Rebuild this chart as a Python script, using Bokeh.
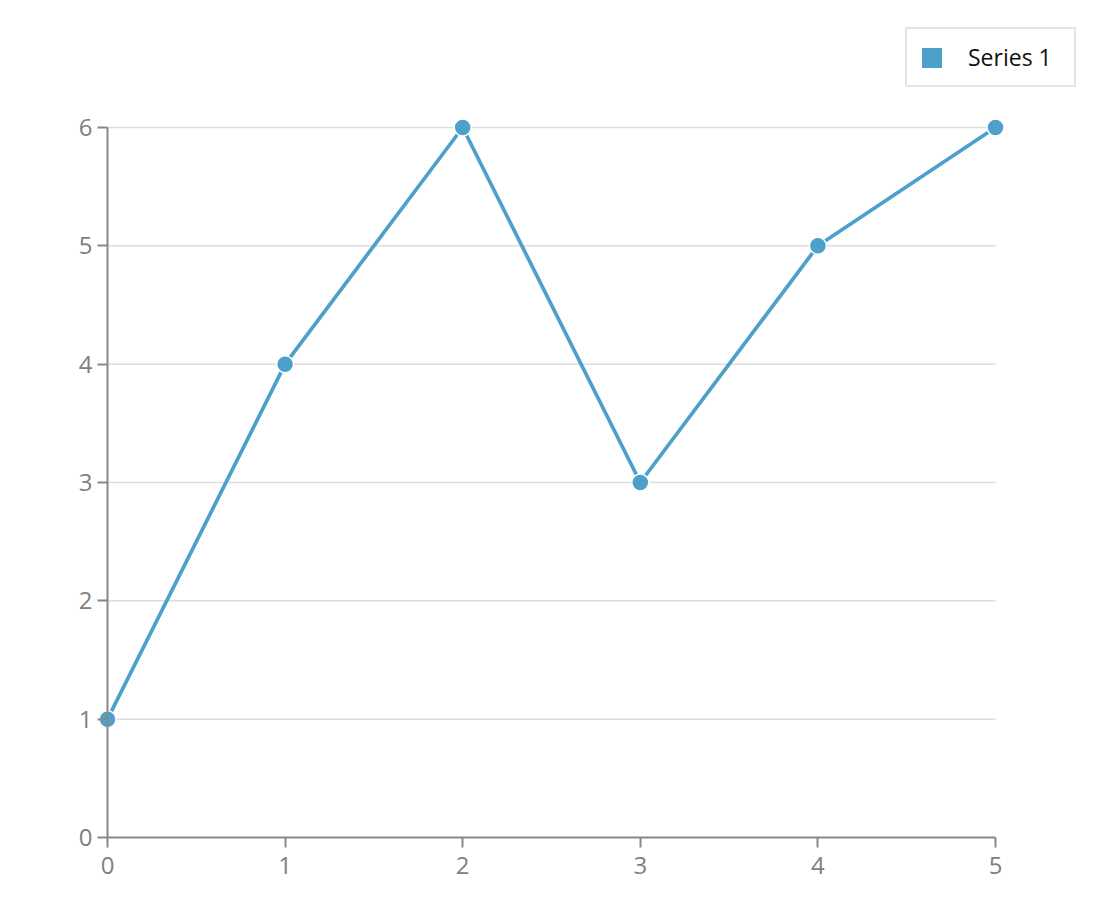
from bokeh.plotting import figure
from bokeh.models import (Range1d, Legend, LegendItem, FixedTicker, LinearAxis,
                          ColumnDataSource)
from bokeh.embed import file_html
from bokeh.resources import INLINE

x = [0, 1, 2, 3, 4, 5]
y = [1, 4, 6, 3, 5, 6]
series_name = "Series 1"
x_ticks = [0, 1, 2, 3, 4, 5]
y_ticks = [0, 1, 2, 3, 4, 5, 6]

blue = "#4ca0c9"
grey = "#888888"
label_grey = "#808080"
font = "Open Sans"

W, H = 1100, 900
# frame is made bigger than the data area so edge markers, axis labels and
# the legend are not clipped
L, R, T, B = 60, 1090, 10, 852
# pixel spots where the data area should sit
px0, px1, py0, py1 = 107, 995, 837, 127
xs = (px1 - px0) / (x_ticks[-1] - x_ticks[0])
ys = (py0 - py1) / (y_ticks[-1] - y_ticks[0])
x_rng = Range1d(x_ticks[0] - (px0 - L) / xs, x_ticks[-1] + (R - px1) / xs)
y_rng = Range1d(y_ticks[0] - (B - py0) / ys, y_ticks[-1] + (py1 - T) / ys)

p = figure(width=W, height=H, output_backend="svg", toolbar_location=None,
           x_range=x_rng, y_range=y_rng, x_axis_location=None, y_axis_location=None,
           min_border_left=L, min_border_right=W - R, min_border_top=T,
           min_border_bottom=H - B)
p.outline_line_color = None
p.background_fill_color = "white"
p.border_fill_color = "white"
p.grid.visible = False


def style(ax, ticks):
    ax.ticker = FixedTicker(ticks=ticks)
    ax.axis_line_color = grey
    ax.axis_line_width = 2
    ax.major_tick_line_color = grey
    ax.major_tick_line_width = 2
    ax.minor_tick_line_color = None
    ax.major_label_text_color = label_grey
    ax.major_label_text_font = font
    ax.major_label_text_font_size = "24px"


# y axis pinned at x=0
yax = LinearAxis(fixed_location=0, bounds=(y_ticks[0], y_ticks[-1]))
style(yax, y_ticks)
yax.major_tick_in = 0
yax.major_tick_out = 10
yax.major_label_standoff = 5
p.add_layout(yax, "left")

# x axis line + ticks pinned at y=0 (ticks point down, labels drawn by xlab)
xline = LinearAxis(fixed_location=0, bounds=(x_ticks[0], x_ticks[-1]))
style(xline, x_ticks)
xline.major_tick_in = 10
xline.major_tick_out = 0
xline.major_label_text_color = None
xline.major_label_standoff = 0
p.add_layout(xline, "above")

# x tick labels below the frame
xlab = LinearAxis()
style(xlab, x_ticks)
xlab.axis_line_color = None
xlab.major_tick_line_color = None
xlab.major_tick_in = 0
xlab.major_tick_out = 0
xlab.major_label_standoff = 4
p.add_layout(xlab, "below")

# horizontal grid lines, only across the data area
gy = y_ticks[1:]
p.segment(x0=[x_ticks[0]] * len(gy), x1=[x_ticks[-1]] * len(gy), y0=gy, y1=gy,
          line_color="#dddddd", line_width=1.5)

src = ColumnDataSource(dict(x=x, y=y))
p.line("x", "y", source=src, line_color=blue, line_width=3.7)
p.scatter("x", "y", source=src, size=17, fill_color=blue, line_color="white", line_width=1.5)

# zero-size quad, only used for the square legend swatch
swatch = p.quad(left=x[:1], right=x[:1], top=y[:1], bottom=y[:1],
                fill_color=blue, line_color=None)

legend = Legend(items=[LegendItem(label=series_name, renderers=[swatch])],
                location=(905 - L, B - 87), orientation="vertical",
                padding=12, margin=0, spacing=0,
                glyph_width=25, glyph_height=25, label_standoff=24, label_width=94,
                label_text_font=font, label_text_font_size="23px", label_text_color="#111111",
                border_line_color="#cccccc", border_line_width=2,
                background_fill_color="white", background_fill_alpha=1)
p.add_layout(legend)

open("out.html", "w").write(file_html(p, INLINE))
